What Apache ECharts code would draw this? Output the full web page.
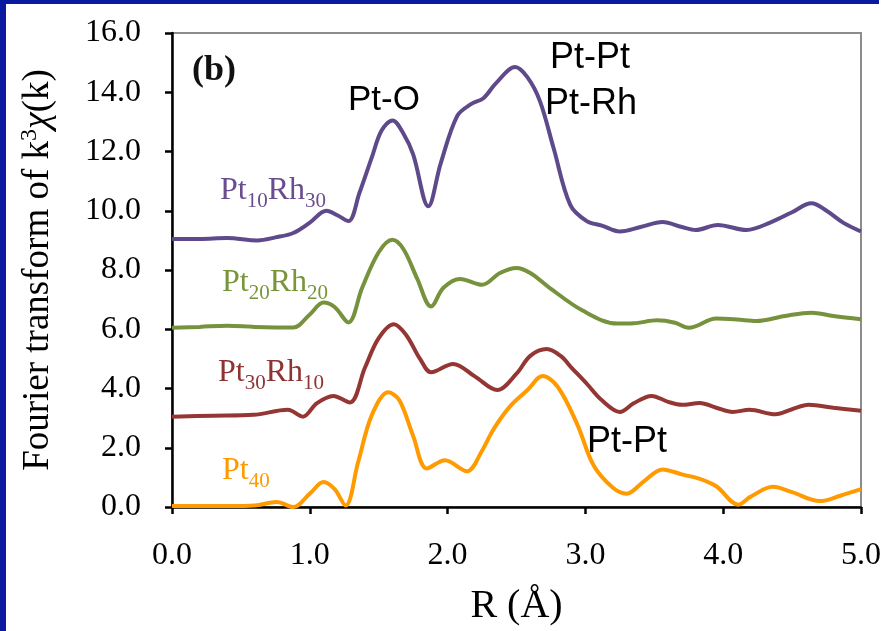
<!DOCTYPE html>
<html>
<head>
<meta charset="utf-8">
<script src="https://cdn.jsdelivr.net/npm/echarts@6/dist/echarts.min.js"></script>
<style>
  html, body { margin: 0; padding: 0; background: #ffffff; }
  #chart { width: 888px; height: 631px; }
</style>
</head>
<body>
<div id="chart"></div>
<script>
// Fourier-transformed EXAFS spectra, |FT of k^3 chi(k)| vs R, curves offset vertically
const pt10rh30 = [
  [0,9.05],[0.2,9.05],[0.4,9.08],[0.62,9.0],[0.75,9.1],[0.88,9.25],[1.0,9.6],[1.12,10.0],
  [1.2,9.85],[1.28,9.65],[1.36,10.6],[1.45,11.8],[1.52,12.7],[1.6,13.05],[1.68,12.6],
  [1.75,11.9],[1.86,10.15],[1.95,11.6],[2.07,13.2],[2.17,13.6],[2.26,13.8],[2.35,14.3],
  [2.49,14.85],[2.58,14.5],[2.67,13.7],[2.77,12.1],[2.89,10.2],[3.01,9.65],[3.12,9.5],
  [3.25,9.3],[3.4,9.45],[3.56,9.62],[3.7,9.45],[3.8,9.35],[3.96,9.52],[4.17,9.35],
  [4.34,9.6],[4.5,9.95],[4.64,10.25],[4.75,10.0],[4.87,9.6],[5.0,9.3]
];
const pt20rh20 = [
  [0,6.05],[0.2,6.08],[0.4,6.12],[0.6,6.08],[0.88,6.06],[1.0,6.5],[1.1,6.9],[1.18,6.75],
  [1.28,6.23],[1.38,7.4],[1.5,8.6],[1.6,9.02],[1.68,8.7],[1.78,7.7],[1.88,6.77],[1.97,7.4],
  [2.09,7.7],[2.25,7.5],[2.38,7.9],[2.5,8.07],[2.6,7.9],[2.74,7.4],[2.98,6.63],[3.23,6.19],
  [3.35,6.2],[3.52,6.3],[3.65,6.22],[3.75,6.05],[3.95,6.36],[4.1,6.33],[4.24,6.28],
  [4.45,6.45],[4.64,6.56],[4.8,6.45],[5.0,6.34]
];
const pt30rh10 = [
  [0,3.05],[0.3,3.08],[0.59,3.11],[0.84,3.28],[0.95,3.05],[1.05,3.5],[1.17,3.75],[1.29,3.53],
  [1.4,4.7],[1.5,5.7],[1.61,6.17],[1.7,5.8],[1.8,5.0],[1.88,4.55],[2.04,4.83],[2.2,4.4],
  [2.36,3.95],[2.5,4.5],[2.6,5.1],[2.72,5.33],[2.82,5.1],[2.9,4.7],[3.01,4.16],[3.12,3.6],
  [3.25,3.21],[3.35,3.5],[3.48,3.75],[3.6,3.55],[3.7,3.45],[3.83,3.51],[3.95,3.35],
  [4.07,3.21],[4.19,3.28],[4.38,3.13],[4.5,3.3],[4.62,3.45],[4.8,3.35],[5.0,3.25]
];
const pt40 = [
  [0,0.03],[0.42,0.03],[0.6,0.05],[0.76,0.17],[0.88,0.0],[1.0,0.45],[1.1,0.84],[1.18,0.6],
  [1.26,0.05],[1.35,1.5],[1.45,3.1],[1.57,3.87],[1.65,3.6],[1.75,2.4],[1.85,1.3],[1.98,1.58],
  [2.14,1.21],[2.25,1.9],[2.33,2.6],[2.45,3.38],[2.58,3.95],[2.69,4.42],[2.8,4.05],[2.94,2.8],
  [3.06,1.4],[3.2,0.65],[3.3,0.45],[3.42,0.85],[3.56,1.27],[3.7,1.1],[3.83,0.95],[3.95,0.7],
  [4.11,0.08],[4.2,0.35],[4.36,0.68],[4.5,0.5],[4.7,0.2],[4.85,0.38],[5.0,0.6]
];

const xTicks = { min: 0, max: 5, step: 1 };
const yTicks = { min: 0, max: 16, step: 2 };

const serif = 'Liberation Serif, Times New Roman, serif';
const sans = 'Liberation Sans, Arial, sans-serif';

function subLabel(parts, color) {
  // parts: alternating main text and subscript text
  let txt = '';
  parts.forEach((p, i) => { txt += (i % 2 === 0 ? '{m|' : '{s|') + p + '}'; });
  return {
    text: txt,
    fill: color,
    verticalAlign: 'middle',
    rich: {
      m: { fontFamily: serif, fontSize: 32, fill: color },
      s: { fontFamily: serif, fontSize: 21, fill: color, padding: [20, 0, 0, 0] }
    }
  };
}

const chart = echarts.init(document.getElementById('chart'), null, { renderer: 'canvas' });

const lineSeries = (name, data, color) => ({
  name: name,
  type: 'line',
  data: data,
  smooth: 0.35,
  showSymbol: false,
  lineStyle: { color: color, width: 4 },
  itemStyle: { color: color },
  z: 3
});

chart.setOption({
  animation: false,
  backgroundColor: '#ffffff',
  grid: {
    left: 172, top: 33, width: 689, height: 478,
    show: true, borderColor: '#8c8c8c', borderWidth: 2, backgroundColor: 'transparent'
  },
  xAxis: {
    type: 'value', min: xTicks.min, max: xTicks.max, interval: xTicks.step,
    axisLine: { show: true, lineStyle: { color: '#000', width: 2.5 } },
    axisTick: { show: true, inside: false, length: 7, lineStyle: { color: '#000', width: 2.5 } },
    axisLabel: {
      margin: 33, color: '#000', fontFamily: serif, fontSize: 32,
      formatter: v => v.toFixed(1)
    },
    splitLine: { show: false },
    name: 'R (Å)', nameLocation: 'middle', nameGap: 99,
    nameTextStyle: { fontFamily: serif, fontSize: 40, color: '#000', verticalAlign: 'middle' }
  },
  yAxis: {
    type: 'value', min: yTicks.min, max: yTicks.max, interval: yTicks.step,
    axisLine: { show: true, lineStyle: { color: '#000', width: 2.5 } },
    axisTick: { show: true, inside: false, length: 7, lineStyle: { color: '#000', width: 2.5 } },
    axisLabel: {
      margin: 31, color: '#000', fontFamily: serif, fontSize: 32,
      formatter: v => v.toFixed(1)
    },
    splitLine: { show: false },
    name: '{t|Fourier transform of k}{sup|3}{chi|χ}{t|(k)}',
    nameLocation: 'middle', nameGap: 134, nameRotate: 90,
    nameTextStyle: {
      align: 'center', verticalAlign: 'middle',
      rich: {
        t: { fontFamily: serif, fontSize: 37, color: '#000' },
        sup: { fontFamily: serif, fontSize: 24, color: '#000', padding: [0, 0, 16, 0] },
        chi: { fontFamily: serif, fontSize: 38, color: '#000', fontStyle: 'italic' }
      }
    }
  },
  series: [
    lineSeries('Pt10Rh30', pt10rh30, '#5E4A8A'),
    lineSeries('Pt20Rh20', pt20rh20, '#76923C'),
    lineSeries('Pt30Rh10', pt30rh10, '#943634'),
    lineSeries('Pt40', pt40, '#FF9A00')
  ],
  graphic: [
    // page frame
    { type: 'rect', left: 0, top: 0, shape: { width: 6, height: 631 }, style: { fill: '#0A1A9E' }, z: 10 },
    { type: 'rect', left: 0, top: 0, shape: { width: 879, height: 4 }, style: { fill: '#0A1A9E' }, z: 10 },
    // panel tag
    { type: 'text', x: 192, y: 71, style: { text: '(b)', fontFamily: serif, fontSize: 36, fontWeight: 'bold', fill: '#111', verticalAlign: 'middle' }, z: 5 },
    // shell assignments
    { type: 'text', x: 384, y: 100, style: { text: 'Pt-O', fontFamily: sans, fontSize: 35, fill: '#000', align: 'center', verticalAlign: 'middle' }, z: 5 },
    { type: 'text', x: 590, y: 58, style: { text: 'Pt-Pt', fontFamily: sans, fontSize: 36, fill: '#000', align: 'center', verticalAlign: 'middle' }, z: 5 },
    { type: 'text', x: 591, y: 104, style: { text: 'Pt-Rh', fontFamily: sans, fontSize: 36, fill: '#000', align: 'center', verticalAlign: 'middle' }, z: 5 },
    { type: 'text', x: 627, y: 442, style: { text: 'Pt-Pt', fontFamily: sans, fontSize: 36, fill: '#000', align: 'center', verticalAlign: 'middle' }, z: 5 },
    // curve names
    { type: 'text', x: 220, y: 191, style: subLabel(['Pt', '10', 'Rh', '30'], '#6A4C90'), z: 5 },
    { type: 'text', x: 222, y: 283, style: subLabel(['Pt', '20', 'Rh', '20'], '#78953A'), z: 5 },
    { type: 'text', x: 218, y: 373, style: subLabel(['Pt', '30', 'Rh', '10'], '#8E3333'), z: 5 },
    { type: 'text', x: 222, y: 471, style: subLabel(['Pt', '40'], '#FF9900'), z: 5 }
  ]
});
</script>
</body>
</html>
